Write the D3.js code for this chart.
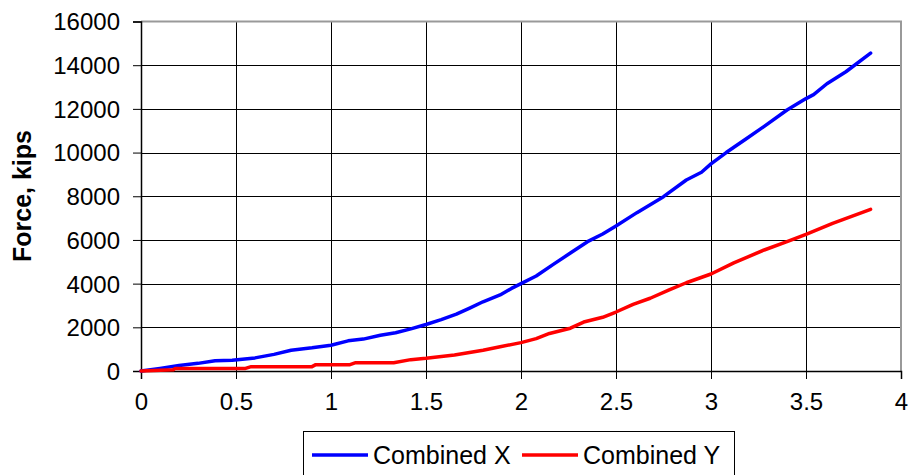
<!DOCTYPE html>
<html>
<head>
<meta charset="utf-8">
<script src="https://cdn.jsdelivr.net/npm/d3@7"></script>
<style>
  body { margin: 0; background: #fff; }
  svg { display: block; font-family: Arial, "Liberation Sans", sans-serif; }
</style>
</head>
<body>
<svg id="chart" width="913" height="475"></svg>
<script>
// Data
const xTicks = [0, 0.5, 1, 1.5, 2, 2.5, 3, 3.5, 4];
const yTicks = [0, 2000, 4000, 6000, 8000, 10000, 12000, 14000, 16000];

const dispX = [0, 0.1, 0.2, 0.3, 0.39, 0.48, 0.6, 0.7, 0.79, 0.9, 1.0, 1.09, 1.17, 1.26, 1.34, 1.42, 1.5, 1.58, 1.66, 1.73, 1.8, 1.89, 1.95, 2.0, 2.08, 2.17, 2.26, 2.35, 2.43, 2.5, 2.61, 2.75, 2.87, 2.95, 3.0, 3.08, 3.18, 3.28, 3.4, 3.5, 3.54, 3.61, 3.71, 3.84];
const forceX = [0, 120, 250, 350, 470, 490, 600, 760, 950, 1060, 1180, 1380, 1460, 1640, 1750, 1930, 2130, 2350, 2600, 2880, 3170, 3480, 3780, 4000, 4350, 4880, 5400, 5920, 6270, 6640, 7250, 7980, 8745, 9100, 9480, 10000, 10600, 11200, 11950, 12470, 12650, 13150, 13700, 14550];

const dispY = [0, 0.17, 0.18, 0.55, 0.58, 0.9, 0.92, 1.1, 1.13, 1.33, 1.42, 1.5, 1.65, 1.8, 1.89, 2.0, 2.08, 2.15, 2.26, 2.33, 2.43, 2.5, 2.59, 2.68, 2.78, 2.87, 3.0, 3.12, 3.28, 3.4, 3.5, 3.64, 3.84];
const forceY = [0, 60, 120, 120, 200, 200, 290, 290, 380, 380, 520, 580, 730, 950, 1110, 1300, 1480, 1720, 1960, 2240, 2460, 2700, 3050, 3330, 3710, 4040, 4440, 4950, 5540, 5920, 6260, 6760, 7400];

const seriesNames = ["Combined X", "Combined Y"];
const seriesColors = ["#0000FF", "#FF0000"];

const svg = d3.select("#chart");
const pLeft = 141, pRight = 901, pTop = 21.5, pBottom = 371;

const x = d3.scaleLinear().domain([0, 4]).range([pLeft, pRight]);
const y = d3.scaleLinear().domain([0, 16000]).range([pBottom, pTop]);

// Grid lines
const grid = svg.append("g").attr("shape-rendering", "crispEdges");
grid.selectAll(".hg").data(yTicks.filter(d => d > 0 && d < 16000)).enter().append("line")
  .attr("x1", pLeft).attr("x2", pRight).attr("y1", d => Math.round(y(d)) + 0.5).attr("y2", d => Math.round(y(d)) + 0.5)
  .attr("stroke", "#000").attr("stroke-width", 1);
grid.selectAll(".vg").data(xTicks.filter(d => d > 0 && d < 4)).enter().append("line")
  .attr("y1", pTop).attr("y2", pBottom).attr("x1", d => Math.round(x(d)) + 0.5).attr("x2", d => Math.round(x(d)) + 0.5)
  .attr("stroke", "#000").attr("stroke-width", 1);

// Plot border top/right (gray)
svg.append("path")
  .attr("d", `M${pLeft},${pTop} H${pRight} V${pBottom}`)
  .attr("fill", "none").attr("stroke", "#999").attr("stroke-width", 2);

// Axes
const yAxis = d3.axisLeft(y).tickValues(yTicks).tickSize(8).tickPadding(13).tickFormat(d3.format("d"));
const xAxis = d3.axisBottom(x).tickValues(xTicks).tickSize(8).tickPadding(14).tickFormat(d => String(d));

const gy = svg.append("g").attr("transform", `translate(${pLeft},0)`).call(yAxis);
const gx = svg.append("g").attr("transform", `translate(0,${pBottom})`).call(xAxis);
[gx, gy].forEach(g => {
  g.select(".domain").attr("stroke", "#000").attr("stroke-width", 1.5);
  g.selectAll(".tick line").attr("stroke", "#000").attr("stroke-width", 1);
  g.selectAll(".tick text").attr("fill", "#000").style("font-size", "24px")
    .style("font-family", "Arial, 'Liberation Sans', sans-serif");
});
gy.selectAll(".tick text").attr("dy", "0.35em");

// Y axis title
svg.append("text")
  .attr("transform", "translate(31,196) rotate(-90)")
  .attr("text-anchor", "middle")
  .style("font-size", "25px").style("font-weight", "bold")
  .text("Force, kips");

// Lines
const line = d3.line().x(d => x(d[0])).y(d => y(d[1]));
const seriesData = [
  dispX.map((d, i) => [d, forceX[i]]),
  dispY.map((d, i) => [d, forceY[i]])
];
svg.selectAll(".series").data(seriesData).enter().append("path")
  .attr("d", line)
  .attr("fill", "none")
  .attr("stroke", (d, i) => seriesColors[i])
  .attr("stroke-width", 3.5)
  .attr("stroke-linejoin", "round")
  .attr("stroke-linecap", "round");

// Legend
const lg = svg.append("g");
lg.append("rect").attr("x", 303.5).attr("y", 431.5).attr("width", 431).attr("height", 60)
  .attr("fill", "#fff").attr("stroke", "#000").attr("stroke-width", 1);
const legendItems = [
  { lx: 312, tx: 373 },
  { lx: 522, tx: 583 }
];
legendItems.forEach((it, i) => {
  lg.append("line").attr("x1", it.lx).attr("x2", it.lx + 56).attr("y1", 455).attr("y2", 455)
    .attr("stroke", seriesColors[i]).attr("stroke-width", 3.5);
  lg.append("text").attr("x", it.tx).attr("y", 464).style("font-size", "25px").text(seriesNames[i]);
});
</script>
</body>
</html>
